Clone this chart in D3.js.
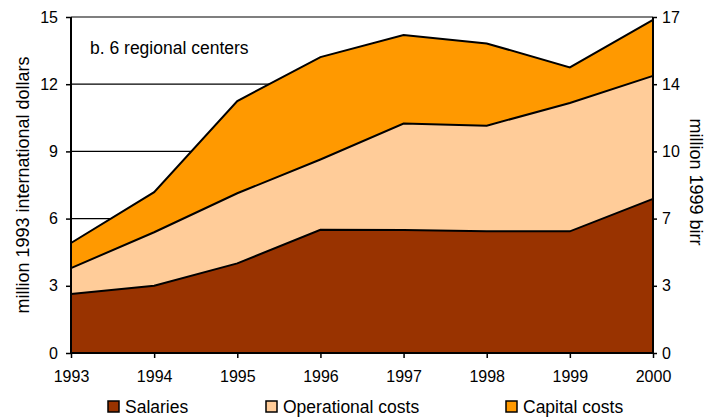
<!doctype html>
<html>
<head>
    <script src="https://cdn.jsdelivr.net/npm/d3@7"></script>
    <style>
        body { margin: 0; background: #fff; }
        text { font-family: "Liberation Sans", Arial, sans-serif; fill: #000; }
    </style>
</head>
<body>
<svg width="719" height="419"></svg>
<script>

    var years = [1993, 1994, 1995, 1996, 1997, 1998, 1999, 2000];
    var salaries    = [2.63, 3.00, 4.00, 5.50, 5.49, 5.43, 5.43, 6.88];
    var operational = [1.16, 2.39, 3.13, 3.14, 4.75, 4.72, 5.73, 5.49];
    var capital     = [1.12, 1.79, 4.12, 4.57, 3.96, 3.67, 1.59, 2.50];
    var seriesNames = ["Salaries", "Operational costs", "Capital costs"];
    var leftTicks = [0, 3, 6, 9, 12, 15];
    var rightTickLabels = ["0", "3", "7", "10", "14", "17"];
    var colors = ["#993300", "#FFCC99", "#FF9900"];

    var svg = d3.select("svg");
    var plotLeft = 71, plotRight = 653, plotTop = 17, plotBottom = 353;

    var x = d3.scaleLinear().domain([1993, 2000]).range([plotLeft, plotRight]);
    var y = d3.scaleLinear().domain([0, 15]).range([plotBottom, plotTop]);

    var table = years.map(function(yr, i) {
        return { year: yr, "Salaries": salaries[i], "Operational costs": operational[i], "Capital costs": capital[i] };
    });
    var stacked = d3.stack().keys(seriesNames)(table);

    // gridlines
    svg.append("g")
       .selectAll("line")
       .data(leftTicks.filter(function(d) { return d > 0; }))
       .enter().append("line")
       .attr("x1", plotLeft).attr("x2", plotRight)
       .attr("y1", function(d) { return y(d); })
       .attr("y2", function(d) { return y(d); })
       .attr("stroke", "#000").attr("stroke-width", 1.2);

    var area = d3.area()
        .x(function(d) { return x(d.data.year); })
        .y0(function(d) { return y(d[0]); })
        .y1(function(d) { return y(d[1]); });

    var line = d3.line()
        .x(function(d) { return x(d.data.year); })
        .y(function(d) { return y(d[1]); });

    svg.append("g").selectAll("path")
       .data(stacked)
       .enter().append("path")
       .attr("d", area)
       .attr("fill", function(d, i) { return colors[i]; });

    svg.append("g").selectAll("path")
       .data(stacked)
       .enter().append("path")
       .attr("d", line)
       .attr("fill", "none")
       .attr("stroke", "#000")
       .attr("stroke-width", 2);

    // axes
    var axisL = svg.append("g")
       .attr("transform", "translate(" + plotLeft + ",0)")
       .call(d3.axisLeft(y).tickValues(leftTicks).tickSize(5).tickPadding(8));
    var axisR = svg.append("g")
       .attr("transform", "translate(" + plotRight + ",0)")
       .call(d3.axisRight(y).tickValues(leftTicks).tickSize(4).tickPadding(5)
             .tickFormat(function(d, i) { return rightTickLabels[i]; }));
    var axisB = svg.append("g")
       .attr("transform", "translate(0," + plotBottom + ")")
       .call(d3.axisBottom(x).tickValues(years).tickSize(5).tickPadding(13)
             .tickFormat(d3.format("d")));

    [axisL, axisR, axisB].forEach(function(a) {
        a.select(".domain").attr("stroke", "#000").attr("stroke-width", 2);
        a.selectAll(".tick line").attr("stroke", "#000").attr("stroke-width", 1.5);
        a.selectAll(".tick text").attr("font-size", "16px").attr("font-family", "Liberation Sans, Arial, sans-serif");
    });
    axisL.select(".domain").attr("d", "M0," + plotBottom + "V" + plotTop);
    axisR.select(".domain").attr("d", "M0," + plotBottom + "V" + plotTop);
    axisB.select(".domain").attr("d", "M" + plotLeft + ",0H" + plotRight);

    svg.append("text")
       .attr("x", 90).attr("y", 54)
       .attr("font-size", "17.5px")
       .text("b. 6 regional centers");

    svg.append("text")
       .attr("transform", "translate(29,185) rotate(-90)")
       .attr("text-anchor", "middle")
       .attr("font-size", "18px")
       .text("million 1993 international dollars");

    svg.append("text")
       .attr("transform", "translate(690,182) rotate(90)")
       .attr("text-anchor", "middle")
       .attr("font-size", "18px")
       .text("million 1999 birr");

    // legend
    var legendX = [108, 266, 506];
    var legend = svg.append("g").selectAll("g")
       .data(seriesNames)
       .enter().append("g")
       .attr("transform", function(d, i) { return "translate(" + legendX[i] + ",401)"; });
    legend.append("rect")
       .attr("width", 11).attr("height", 11)
       .attr("fill", function(d, i) { return colors[i]; })
       .attr("stroke", "#000").attr("stroke-width", 1.5);
    legend.append("text")
       .attr("x", 17).attr("y", 12)
       .attr("font-size", "17.5px")
       .text(function(d) { return d; });
</script>
</body>
</html>
